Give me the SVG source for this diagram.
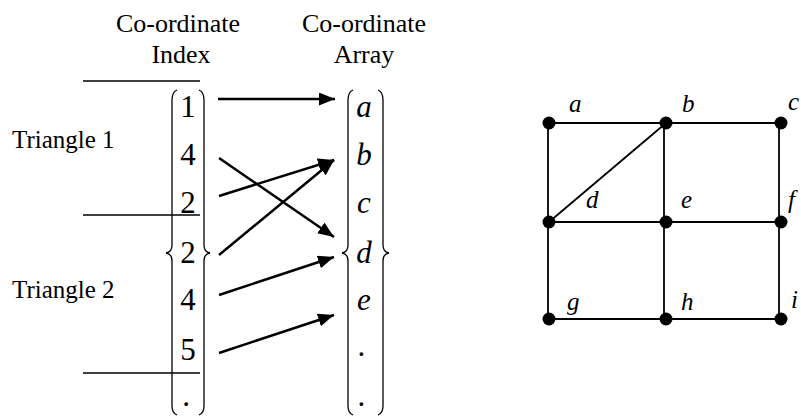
<svg xmlns="http://www.w3.org/2000/svg" width="801" height="416" viewBox="0 0 801 416">
<style>
  text { font-family: "Liberation Serif", "Times New Roman", serif; fill: #000; }
  .hdr { font-size: 26px; text-anchor: middle; }
  .lbl { font-size: 25px; }
  .num { font-size: 31px; text-anchor: middle; }
  .let { font-size: 31px; font-style: italic; text-anchor: middle; }
  .glab { font-size: 25px; font-style: italic; }
  .br { fill: none; stroke: #000; stroke-width: 1.3; }
  .rule { stroke: #000; stroke-width: 1.5; }
  .arr { stroke: #000; stroke-width: 2.5; fill: none; marker-end: url(#ah); }
  .edge { stroke: #000; stroke-width: 1.8; }
  .node { fill: #000; }
</style>
<defs>
  <marker id="ah" markerUnits="userSpaceOnUse" markerWidth="18" markerHeight="14" refX="16" refY="6.5" orient="auto">
    <path d="M0,0 L16,6.5 L0,13 Z" fill="#000"/>
  </marker>
</defs>

<g id="headers">
  <text class="hdr" x="178" y="32">Co-ordinate</text>
  <text class="hdr" x="181" y="63">Index</text>
  <text class="hdr" x="364" y="32">Co-ordinate</text>
  <text class="hdr" x="364" y="63">Array</text>
</g>

<g id="triangle-labels">
  <line class="rule" x1="83" y1="81" x2="200" y2="81"/>
  <line class="rule" x1="83" y1="215" x2="200" y2="215"/>
  <line class="rule" x1="83" y1="373" x2="200" y2="373"/>
  <text class="lbl" x="12" y="148">Triangle 1</text>
  <text class="lbl" x="12" y="298">Triangle 2</text>
</g>

<g id="index-array">
  <path class="br" d="M177 90 Q172 92 172 100 L172 245 Q172 252 166 253 Q172 254 172 261 L172 406 Q172 413 177 415"/>
  <path class="br" d="M199 90 Q204 92 204 100 L204 245 Q204 252 210 253 Q204 254 204 261 L204 406 Q204 413 199 415"/>
  <text class="num" x="188" y="117">1</text>
  <text class="num" x="188" y="165">4</text>
  <text class="num" x="188" y="213">2</text>
  <text class="num" x="188" y="263">2</text>
  <text class="num" x="188" y="310">4</text>
  <text class="num" x="188" y="360">5</text>
  <text class="num" x="186" y="406">.</text>
</g>

<g id="coord-array">
  <path class="br" d="M353 90 Q348 92 348 100 L348 245 Q348 252 342 253 Q348 254 348 261 L348 406 Q348 413 353 415"/>
  <path class="br" d="M378 90 Q383 92 383 100 L383 245 Q383 252 389 253 Q383 254 383 261 L383 406 Q383 413 378 415"/>
  <text class="let" x="364" y="117">a</text>
  <text class="let" x="364" y="165">b</text>
  <text class="let" x="364" y="213">c</text>
  <text class="let" x="364" y="263">d</text>
  <text class="let" x="364" y="310">e</text>
  <text class="let" x="362" y="356">.</text>
  <text class="let" x="362" y="406">.</text>
</g>

<g id="connectors">
  <line class="arr" x1="218" y1="99" x2="335" y2="99"/>
  <line class="arr" x1="219" y1="158" x2="334" y2="237"/>
  <line class="arr" x1="219" y1="196" x2="334" y2="160"/>
  <line class="arr" x1="219" y1="255" x2="334" y2="160"/>
  <line class="arr" x1="219" y1="295" x2="334" y2="257"/>
  <line class="arr" x1="219" y1="353" x2="334" y2="315"/>
</g>

<g id="mesh-edges">
  <line class="edge" x1="549" y1="123" x2="781" y2="123"/>
  <line class="edge" x1="549" y1="222" x2="781" y2="222"/>
  <line class="edge" x1="549" y1="319" x2="781" y2="319"/>
  <line class="edge" x1="548" y1="123" x2="548" y2="319"/>
  <line class="edge" x1="664" y1="123" x2="664" y2="319"/>
  <line class="edge" x1="779" y1="123" x2="779" y2="319"/>
  <line class="edge" x1="549" y1="222" x2="666" y2="123"/>
</g>

<g id="mesh-nodes">
  <circle class="node" cx="549" cy="123" r="6.5"/>
  <circle class="node" cx="666" cy="123" r="6.5"/>
  <circle class="node" cx="781" cy="123" r="6.5"/>
  <circle class="node" cx="549" cy="222" r="6.5"/>
  <circle class="node" cx="666" cy="222" r="6.5"/>
  <circle class="node" cx="781" cy="222" r="6.5"/>
  <circle class="node" cx="549" cy="319" r="6.5"/>
  <circle class="node" cx="666" cy="319" r="6.5"/>
  <circle class="node" cx="781" cy="319" r="6.5"/>
</g>

<g id="mesh-labels">
  <text class="glab" x="569" y="112">a</text>
  <text class="glab" x="682" y="112">b</text>
  <text class="glab" x="788" y="110">c</text>
  <text class="glab" x="586" y="208">d</text>
  <text class="glab" x="681" y="208">e</text>
  <text class="glab" x="788" y="208">f</text>
  <text class="glab" x="791" y="308">i</text>
  <text class="glab" x="567" y="310">g</text>
  <text class="glab" x="681" y="310">h</text>
</g>
</svg>
